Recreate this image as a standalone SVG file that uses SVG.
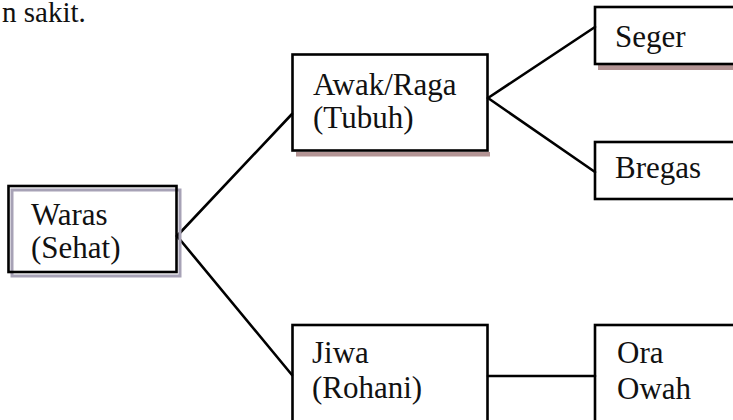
<svg xmlns="http://www.w3.org/2000/svg" width="733" height="420" viewBox="0 0 733 420">
<style>
.box{fill:none;stroke:#000;stroke-width:2.6}
.t{font-family:"Liberation Serif","Times New Roman",serif;font-size:31px;fill:#111}
.conn line{stroke:#000;stroke-width:2.6;stroke-linecap:round}
</style>
<rect width="733" height="420" fill="#fff"/>
<text class="t" x="2" y="22" style="font-size:29px">n sakit.</text>
<g class="conn" id="connectors">
<line x1="177" y1="236" x2="292" y2="114"/>
<line x1="177" y1="236" x2="292" y2="375"/>
<line x1="488" y1="98" x2="595" y2="27"/>
<line x1="488" y1="98" x2="595" y2="172"/>
<line x1="488" y1="376" x2="595" y2="376"/>
</g>
<g id="waras">
<rect x="12" y="190" width="168" height="86" fill="none" stroke="#a7a2b6" stroke-width="3"/>
<rect class="box" x="8.5" y="186" width="168" height="86"/>
<text class="t" x="31" y="225">Waras</text>
<text class="t" x="31" y="258">(Sehat)</text>
</g>
<g id="awak">
<rect x="296" y="152" width="194" height="4.5" fill="#b39494"/>
<rect class="box" x="292.5" y="54.5" width="195" height="96"/>
<text class="t" x="313" y="95">Awak/Raga</text>
<text class="t" x="313" y="128">(Tubuh)</text>
</g>
<g id="seger">
<rect x="598" y="65" width="140" height="5" fill="#b39494"/>
<rect class="box" x="595" y="7" width="150" height="57"/>
<text class="t" x="615" y="47">Seger</text>
</g>
<g id="bregas">
<rect class="box" x="595" y="142" width="150" height="57"/>
<text class="t" x="615" y="178">Bregas</text>
</g>
<g id="jiwa">
<rect class="box" x="292.5" y="325" width="195" height="110"/>
<text class="t" x="312" y="363">Jiwa</text>
<text class="t" x="312" y="398">(Rohani)</text>
</g>
<g id="ora">
<rect class="box" x="595" y="325" width="150" height="110"/>
<text class="t" x="617" y="363">Ora</text>
<text class="t" x="617" y="399">Owah</text>
</g>
</svg>
